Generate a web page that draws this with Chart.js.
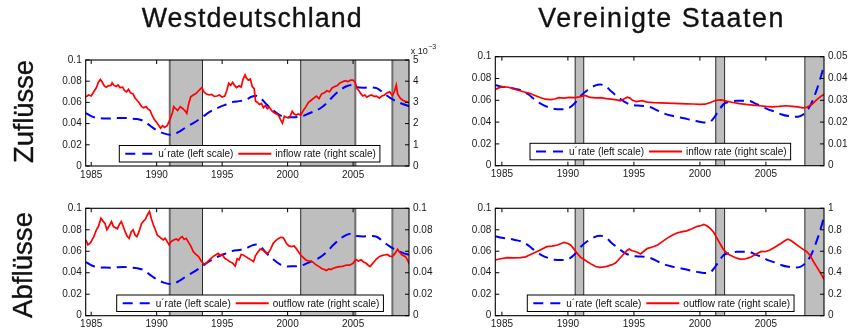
<!DOCTYPE html>
<html><head><meta charset="utf-8">
<script src="https://cdn.jsdelivr.net/npm/chart.js@4.4.1/dist/chart.umd.min.js"></script>
<style>
html,body{margin:0;padding:0;background:#fff;width:848px;height:329px;overflow:hidden;position:relative}
canvas{position:absolute}
svg{position:absolute;left:0;top:0}
</style></head><body>
<canvas id="c1" width="448" height="150" style="left:0;top:36px"></canvas>
<canvas id="c2" width="400" height="150" style="left:448px;top:36px"></canvas>
<canvas id="c3" width="448" height="139" style="left:0;top:190px"></canvas>
<canvas id="c4" width="400" height="139" style="left:448px;top:190px"></canvas>
<svg width="848" height="329" font-family="Liberation Sans, Arial, sans-serif" fill="#111" stroke="#111" stroke-width="0.35">
  <text x="251.7" y="26.7" text-anchor="middle" font-size="26.8" textLength="220" lengthAdjust="spacing">Westdeutschland</text>
  <text x="660.8" y="26.7" text-anchor="middle" font-size="26.8" textLength="245" lengthAdjust="spacing">Vereinigte Staaten</text>
  <text transform="translate(33.3,111.5) rotate(-90)" text-anchor="middle" font-size="27.5" textLength="103" lengthAdjust="spacing">Zuflüsse</text>
  <text transform="translate(31.7,265) rotate(-90)" text-anchor="middle" font-size="27.5" textLength="106" lengthAdjust="spacing">Abflüsse</text>
</svg>
<script>
// ---------------- data ----------------
const xTicks = [1985, 1990, 1995, 2000, 2005];
const leftTicks = [0, 0.02, 0.04, 0.06, 0.08, 0.1];
const wgInflowTicks = [0, 1, 2, 3, 4, 5];            // x 10^-3
const usInflowTicks = [0, 0.01, 0.02, 0.03, 0.04, 0.05];
const wgOutflowTicks = [0, 0.02, 0.04, 0.06, 0.08, 0.1];
const usOutflowTicks = [0, 0.2, 0.4, 0.6, 0.8, 1];

const wgRecessions = [[1991.0, 1993.5], [2001.0, 2005.17], [2008.0, 2009.4]];
const usRecessions = [[1990.55, 1991.2], [2001.2, 2001.87], [2007.95, 2009.5]];

const wgUrate = [[1984.6,0.050],[1985.0,0.047],[1985.5,0.0453],[1986.0,0.0448],[1986.5,0.0447],[1987.0,0.0452],[1987.5,0.0454],[1988.0,0.0448],[1988.5,0.0443],[1989.0,0.0425],[1989.5,0.038],[1990.0,0.0338],[1990.5,0.031],[1991.0,0.0295],[1991.3,0.0298],[1991.8,0.033],[1992.3,0.037],[1992.8,0.0405],[1993.3,0.0445],[1993.8,0.049],[1994.3,0.0527],[1994.8,0.0556],[1995.3,0.058],[1995.8,0.0603],[1996.3,0.0612],[1996.8,0.0625],[1997.3,0.0655],[1997.6,0.0662],[1997.9,0.0645],[1998.4,0.058],[1998.9,0.0525],[1999.4,0.048],[1999.9,0.0458],[2000.4,0.046],[2001.0,0.0465],[2001.5,0.049],[2002.0,0.0515],[2002.5,0.0545],[2003.0,0.0595],[2003.5,0.066],[2004.0,0.0715],[2004.5,0.0752],[2004.9,0.0765],[2005.3,0.0742],[2005.8,0.0738],[2006.3,0.0742],[2006.8,0.0735],[2007.3,0.069],[2007.8,0.0645],[2008.3,0.061],[2008.8,0.0585],[2009.3,0.0565]];

// inflow rate West Germany, in units of 10^-3
const wgInflowE3 = [[1984.6,3.26],[1984.8,3.35],[1985.0,3.30],[1985.2,3.50],[1985.4,3.70],[1985.55,3.95],[1985.7,4.08],[1985.85,3.95],[1986.0,3.78],[1986.15,3.72],[1986.3,3.78],[1986.5,3.80],[1986.6,3.92],[1986.75,3.80],[1986.9,3.75],[1987.05,3.82],[1987.2,3.70],[1987.4,3.72],[1987.55,3.55],[1987.7,3.50],[1987.85,3.62],[1988.0,3.45],[1988.2,3.40],[1988.35,3.20],[1988.5,3.10],[1988.7,2.95],[1988.85,2.80],[1989.0,2.75],[1989.2,2.80],[1989.35,2.68],[1989.5,2.62],[1989.65,2.40],[1989.8,2.22],[1990.0,2.05],[1990.15,1.92],[1990.3,1.78],[1990.45,1.90],[1990.6,1.82],[1990.8,1.90],[1991.0,2.16],[1991.2,2.50],[1991.3,2.80],[1991.45,2.70],[1991.6,2.62],[1991.8,2.80],[1992.0,2.70],[1992.15,2.62],[1992.3,2.48],[1992.45,2.95],[1992.6,3.26],[1992.8,3.35],[1993.0,3.42],[1993.2,3.55],[1993.45,3.70],[1993.6,3.50],[1993.8,3.40],[1994.0,3.35],[1994.2,3.38],[1994.4,3.28],[1994.6,3.30],[1994.8,3.35],[1995.0,3.25],[1995.2,3.30],[1995.35,3.55],[1995.5,3.90],[1995.65,3.80],[1995.8,3.95],[1995.95,3.80],[1996.1,3.70],[1996.3,3.78],[1996.45,3.72],[1996.6,4.10],[1996.75,4.30],[1996.85,4.15],[1997.0,4.05],[1997.15,4.10],[1997.3,3.75],[1997.45,3.65],[1997.55,3.05],[1997.7,3.00],[1997.85,2.90],[1998.0,2.95],[1998.15,2.75],[1998.3,2.85],[1998.45,2.70],[1998.6,2.78],[1998.8,2.60],[1999.0,2.50],[1999.15,2.45],[1999.3,2.40],[1999.45,2.20],[1999.6,2.02],[1999.75,2.35],[1999.9,2.30],[2000.05,2.28],[2000.2,2.35],[2000.35,2.58],[2000.5,2.45],[2000.65,2.40],[2000.8,2.45],[2001.0,2.40],[2001.2,2.62],[2001.4,2.80],[2001.6,3.00],[2001.8,3.10],[2002.0,3.20],[2002.2,3.30],[2002.4,3.18],[2002.6,3.40],[2002.8,3.45],[2003.0,3.55],[2003.2,3.50],[2003.4,3.68],[2003.6,3.75],[2003.8,3.80],[2004.0,3.92],[2004.2,3.97],[2004.4,4.02],[2004.6,3.98],[2004.8,4.05],[2005.0,4.05],[2005.15,3.95],[2005.3,3.65],[2005.45,3.55],[2005.6,3.40],[2005.75,3.30],[2005.9,3.35],[2006.05,3.25],[2006.2,3.30],[2006.4,3.35],[2006.6,3.28],[2006.8,3.30],[2007.0,3.20],[2007.2,3.30],[2007.4,3.35],[2007.6,3.45],[2007.8,3.50],[2008.0,3.32],[2008.15,3.50],[2008.3,3.82],[2008.4,3.40],[2008.6,3.20],[2008.8,3.10],[2009.0,3.05],[2009.3,2.98]];

const wgOutflow = [[1984.6,0.0705],[1984.75,0.066],[1984.95,0.068],[1985.2,0.0736],[1985.4,0.080],[1985.55,0.083],[1985.75,0.0907],[1985.9,0.088],[1986.05,0.086],[1986.2,0.080],[1986.35,0.083],[1986.55,0.0876],[1986.7,0.083],[1986.85,0.082],[1987.0,0.081],[1987.15,0.085],[1987.3,0.0876],[1987.45,0.083],[1987.6,0.078],[1987.75,0.074],[1987.9,0.072],[1988.05,0.078],[1988.2,0.080],[1988.35,0.075],[1988.5,0.0736],[1988.7,0.080],[1988.85,0.086],[1989.0,0.088],[1989.15,0.090],[1989.3,0.094],[1989.45,0.097],[1989.6,0.090],[1989.75,0.0845],[1989.9,0.080],[1990.05,0.075],[1990.2,0.0736],[1990.35,0.072],[1990.5,0.0705],[1990.65,0.072],[1990.8,0.069],[1990.95,0.066],[1991.1,0.069],[1991.3,0.0705],[1991.5,0.0715],[1991.65,0.070],[1991.8,0.0725],[1991.95,0.0736],[1992.1,0.071],[1992.25,0.072],[1992.4,0.069],[1992.6,0.065],[1992.8,0.0596],[1993.0,0.057],[1993.2,0.055],[1993.4,0.051],[1993.55,0.0488],[1993.7,0.048],[1993.9,0.0503],[1994.1,0.053],[1994.3,0.055],[1994.5,0.0565],[1994.7,0.058],[1994.85,0.056],[1995.0,0.057],[1995.2,0.0534],[1995.4,0.052],[1995.6,0.0503],[1995.8,0.049],[1996.0,0.0463],[1996.15,0.053],[1996.3,0.052],[1996.45,0.057],[1996.6,0.0565],[1996.8,0.055],[1997.0,0.0534],[1997.2,0.052],[1997.4,0.0503],[1997.55,0.056],[1997.75,0.0596],[1997.9,0.062],[1998.1,0.0612],[1998.3,0.059],[1998.5,0.058],[1998.7,0.062],[1998.9,0.0674],[1999.1,0.070],[1999.3,0.072],[1999.5,0.073],[1999.65,0.0727],[1999.8,0.070],[1999.9,0.0674],[2000.1,0.065],[2000.3,0.0643],[2000.5,0.065],[2000.65,0.0627],[2000.85,0.059],[2001.0,0.0565],[2001.2,0.054],[2001.4,0.0519],[2001.6,0.051],[2001.9,0.0503],[2002.1,0.048],[2002.4,0.0457],[2002.6,0.044],[2002.8,0.043],[2002.95,0.042],[2003.15,0.0435],[2003.3,0.043],[2003.45,0.044],[2003.7,0.045],[2003.95,0.0457],[2004.2,0.046],[2004.5,0.0472],[2004.75,0.047],[2005.0,0.0488],[2005.2,0.0525],[2005.4,0.051],[2005.6,0.052],[2005.8,0.050],[2006.0,0.0488],[2006.15,0.047],[2006.3,0.0457],[2006.45,0.048],[2006.6,0.0503],[2006.8,0.053],[2007.0,0.055],[2007.2,0.056],[2007.4,0.0565],[2007.6,0.057],[2007.8,0.0555],[2008.0,0.055],[2008.2,0.058],[2008.4,0.0618],[2008.55,0.059],[2008.75,0.0565],[2009.0,0.055],[2009.15,0.052],[2009.3,0.048]];

const usUrate = [[1984.5,0.074],[1985.0,0.0725],[1985.5,0.0718],[1986.0,0.0705],[1986.5,0.069],[1987.0,0.0655],[1987.5,0.0605],[1988.0,0.0565],[1988.5,0.0538],[1989.0,0.052],[1989.5,0.0518],[1990.0,0.0525],[1990.5,0.057],[1991.0,0.0645],[1991.5,0.0695],[1992.0,0.0732],[1992.45,0.0745],[1992.9,0.0725],[1993.3,0.068],[1993.8,0.063],[1994.3,0.0585],[1994.8,0.0558],[1995.3,0.0552],[1995.8,0.0548],[1996.3,0.0535],[1996.8,0.0505],[1997.3,0.0478],[1997.8,0.046],[1998.3,0.0447],[1998.8,0.0435],[1999.3,0.042],[1999.8,0.0408],[2000.3,0.0397],[2000.7,0.0398],[2001.0,0.043],[2001.4,0.050],[2001.8,0.0565],[2002.3,0.0585],[2002.8,0.0595],[2003.3,0.0595],[2003.7,0.0595],[2004.2,0.057],[2004.7,0.0545],[2005.2,0.0515],[2005.7,0.0495],[2006.2,0.047],[2006.7,0.0455],[2007.2,0.0448],[2007.6,0.0455],[2008.0,0.049],[2008.4,0.056],[2008.8,0.068],[2009.1,0.079],[2009.4,0.092]];

const usInflow = [[1984.5,0.0350],[1984.8,0.0358],[1985.1,0.0362],[1985.5,0.0360],[1985.9,0.0352],[1986.3,0.0345],[1986.7,0.0338],[1987.1,0.0332],[1987.5,0.0322],[1987.9,0.0313],[1988.3,0.0305],[1988.7,0.0303],[1989.0,0.0306],[1989.3,0.0312],[1989.7,0.0310],[1990.1,0.0313],[1990.5,0.0312],[1990.9,0.0316],[1991.3,0.0322],[1991.7,0.0313],[1992.1,0.0311],[1992.5,0.0312],[1992.9,0.0308],[1993.3,0.0305],[1993.7,0.0302],[1994.0,0.0298],[1994.3,0.0308],[1994.5,0.0314],[1994.7,0.0310],[1994.9,0.0300],[1995.2,0.0294],[1995.6,0.0298],[1996.0,0.0292],[1996.5,0.0289],[1997.0,0.0288],[1997.5,0.0287],[1998.0,0.0286],[1998.5,0.0285],[1999.0,0.0284],[1999.5,0.0283],[2000.0,0.0281],[2000.4,0.0282],[2000.8,0.0290],[2001.2,0.0300],[2001.6,0.0302],[2002.0,0.0296],[2002.5,0.0290],[2003.0,0.0285],[2003.5,0.0281],[2004.0,0.0278],[2004.5,0.0275],[2005.0,0.0272],[2005.5,0.0270],[2006.0,0.0272],[2006.5,0.0275],[2007.0,0.0272],[2007.4,0.0270],[2007.8,0.0265],[2008.1,0.0268],[2008.5,0.0282],[2008.9,0.0305],[2009.2,0.0320],[2009.4,0.0327]];

const usOutflow = [[1984.5,0.519],[1984.9,0.53],[1985.4,0.54],[1985.9,0.538],[1986.4,0.54],[1986.8,0.548],[1987.1,0.565],[1987.5,0.588],[1987.9,0.612],[1988.4,0.643],[1988.8,0.648],[1989.2,0.658],[1989.5,0.672],[1989.7,0.683],[1989.95,0.675],[1990.2,0.658],[1990.45,0.622],[1990.7,0.58],[1990.95,0.545],[1991.2,0.525],[1991.5,0.50],[1991.8,0.478],[1992.1,0.458],[1992.4,0.450],[1992.7,0.455],[1992.95,0.46],[1993.3,0.473],[1993.6,0.49],[1993.9,0.53],[1994.2,0.57],[1994.45,0.605],[1994.65,0.62],[1994.85,0.605],[1995.05,0.60],[1995.25,0.59],[1995.5,0.575],[1995.75,0.60],[1996.0,0.625],[1996.4,0.64],[1996.8,0.658],[1997.1,0.685],[1997.5,0.72],[1997.9,0.75],[1998.3,0.772],[1998.7,0.783],[1999.0,0.79],[1999.4,0.81],[1999.8,0.832],[2000.1,0.84],[2000.3,0.85],[2000.55,0.835],[2000.8,0.81],[2001.05,0.775],[2001.3,0.72],[2001.55,0.665],[2001.8,0.612],[2002.05,0.582],[2002.3,0.563],[2002.7,0.54],[2003.05,0.527],[2003.4,0.528],[2003.8,0.543],[2004.2,0.57],[2004.6,0.596],[2005.0,0.598],[2005.3,0.612],[2005.7,0.64],[2006.1,0.67],[2006.4,0.695],[2006.65,0.712],[2006.9,0.70],[2007.2,0.672],[2007.5,0.645],[2007.85,0.615],[2008.1,0.596],[2008.35,0.56],[2008.6,0.505],[2008.85,0.455],[2009.1,0.405],[2009.4,0.339]];

const urateLabel = 'u\u00B4rate (left scale)';
const inflowLabel = 'inflow rate (right scale)';
const outflowLabel = 'outflow rate (right scale)';

// ---------------- drawing ----------------
const FONT = '"Liberation Sans", Arial, Helvetica, sans-serif';
const toXY = a => a.map(p => ({x: p[0], y: p[1]}));
const fmt = v => String(Number(v.toFixed(4)));
const EDGE_DARK = {color: '#2a2a2a', width: 1};
const EDGE_GRAY = {color: '#6e6e6e', width: 2};

function line(ctx, x1, y1, x2, y2) { ctx.beginPath(); ctx.moveTo(x1, y1); ctx.lineTo(x2, y2); ctx.stroke(); }

const panelPlugin = {
  id: 'panel',
  beforeDatasetsDraw(chart, args, o) {
    const ctx = chart.ctx, ca = chart.chartArea, xs = chart.scales.x;
    ctx.save();
    o.recessions.forEach(([a, b], i) => {
      const x1 = xs.getPixelForValue(Math.max(a, xs.min));
      const x2 = xs.getPixelForValue(Math.min(b, xs.max));
      ctx.fillStyle = '#bebebe';
      ctx.fillRect(x1, ca.top, x2 - x1, ca.bottom - ca.top);
      const st = o.edges[i];
      [[x1, st[0]], [x2, st[1]]].forEach(([x, s]) => {
        if (x < ca.right - 1) { ctx.strokeStyle = s.color; ctx.lineWidth = s.width; line(ctx, x, ca.top, x, ca.bottom); }
      });
    });
    ctx.restore();
  },
  afterDatasetsDraw(chart, args, o) {
    const ctx = chart.ctx, ca = chart.chartArea;
    const xs = chart.scales.x, yl = chart.scales.y, yr = chart.scales.y2;
    ctx.save();
    ctx.strokeStyle = '#000';
    ctx.lineWidth = 1;
    const tl = 4;
    xs.ticks.forEach(t => { const x = xs.getPixelForValue(t.value); line(ctx, x, ca.bottom, x, ca.bottom - tl); line(ctx, x, ca.top, x, ca.top + tl); });
    yl.ticks.forEach(t => { const y = yl.getPixelForValue(t.value); line(ctx, ca.left, y, ca.left + tl, y); });
    yr.ticks.forEach(t => { const y = yr.getPixelForValue(t.value); line(ctx, ca.right, y, ca.right - tl, y); });
    ctx.lineWidth = 1.1;
    ctx.strokeRect(ca.left, ca.top, ca.right - ca.left, ca.bottom - ca.top);

    // legend
    const L = o.legend;
    ctx.font = '10px ' + FONT;
    const tw1 = ctx.measureText(L.labels[0]).width, tw2 = ctx.measureText(L.labels[1]).width;
    const w = 6 + 29 + 4 + tw1 + 5 + 33 + 4 + tw2 + 4;
    const bx = L.left, by = L.top, bh = 16.5, cy = by + bh / 2;
    ctx.fillStyle = '#fff';
    ctx.fillRect(bx, by, w, bh);
    ctx.lineWidth = 1; ctx.strokeStyle = '#000';
    ctx.strokeRect(bx, by, w, bh);
    let x = bx + 6;
    ctx.strokeStyle = '#0000ff'; ctx.lineWidth = 2; ctx.setLineDash([10, 7]);
    line(ctx, x, cy, x + 29, cy); ctx.setLineDash([]);
    x += 33;
    ctx.fillStyle = '#111'; ctx.textBaseline = 'middle'; ctx.textAlign = 'left';
    ctx.fillText(L.labels[0], x, cy + 0.5);
    x += tw1 + 5;
    ctx.strokeStyle = '#ff0000'; ctx.lineWidth = 2;
    line(ctx, x, cy, x + 33, cy);
    x += 37;
    ctx.fillText(L.labels[1], x, cy + 0.5);

    if (o.exponent) {
      ctx.fillStyle = '#222'; ctx.textBaseline = 'alphabetic';
      ctx.font = '9px ' + FONT;
      const ex = ca.right + 1.7, ey = ca.top - 6;
      ctx.fillText('x 10', ex, ey);
      const ww = ctx.measureText('x 10').width;
      ctx.font = '7px ' + FONT;
      ctx.fillText('\u22123', ex + ww + 0.5, ey - 5);
    }
    ctx.restore();
  }
};

function makeChart(id, cfg) {
  const tickFont = {family: FONT, size: 10};
  new Chart(document.getElementById(id), {
    type: 'line',
    data: {
      datasets: [
        {data: toXY(cfg.red), yAxisID: 'y2', borderColor: '#ff0000', borderWidth: 1.7, pointRadius: 0, tension: 0},
        {data: toXY(cfg.blue), yAxisID: 'y', borderColor: '#0000ff', borderWidth: 2, borderDash: [10, 6], pointRadius: 0, cubicInterpolationMode: 'monotone'}
      ]
    },
    options: {
      responsive: false, animation: false, devicePixelRatio: 1,
      layout: {padding: {top: cfg.pt, left: 0, right: 0, bottom: 0}},
      plugins: {
        legend: {display: false}, tooltip: {enabled: false},
        panel: {recessions: cfg.recessions, edges: cfg.edges, legend: cfg.legend, exponent: cfg.exponent}
      },
      scales: {
        x: {
          type: 'linear', min: cfg.xmin, max: cfg.xmax,
          afterBuildTicks: s => { s.ticks = xTicks.map(v => ({value: v})); },
          ticks: {callback: v => String(v), font: tickFont, color: '#1a1a1a', padding: 3, maxRotation: 0, autoSkip: false},
          grid: {display: false, drawTicks: false}, border: {display: false},
          afterFit: s => { s.height = cfg.hx; }
        },
        y: {
          position: 'left', min: 0, max: 0.1,
          afterBuildTicks: s => { s.ticks = leftTicks.map(v => ({value: v})); },
          ticks: {callback: v => fmt(v), font: tickFont, color: '#1a1a1a', padding: 4},
          grid: {display: false, drawTicks: false}, border: {display: false},
          afterFit: s => { s.width = cfg.lw; }
        },
        y2: {
          position: 'right', min: cfg.rTicks[0], max: cfg.rTicks[cfg.rTicks.length - 1],
          afterBuildTicks: s => { s.ticks = cfg.rTicks.map(v => ({value: v})); },
          ticks: {callback: v => fmt(v), font: tickFont, color: '#1a1a1a', padding: 4},
          grid: {display: false, drawTicks: false}, border: {display: false},
          afterFit: s => { s.width = cfg.rw; }
        }
      }
    },
    plugins: [panelPlugin]
  });
}

const wgEdges = [[EDGE_GRAY, EDGE_DARK], [EDGE_DARK, EDGE_GRAY], [EDGE_GRAY, EDGE_GRAY]];
const usEdges = [[EDGE_DARK, EDGE_DARK], [EDGE_DARK, EDGE_DARK], [EDGE_DARK, EDGE_DARK]];

makeChart('c1', {blue: wgUrate, red: wgInflowE3, rTicks: wgInflowTicks, recessions: wgRecessions, edges: wgEdges,
  xmin: 1984.58, xmax: 2009.27, lw: 85.7, rw: 39, pt: 24, hx: 20, exponent: true,
  legend: {left: 119.3, top: 145.5 - 36, labels: [urateLabel, inflowLabel]}});
makeChart('c2', {blue: usUrate, red: usInflow, rTicks: usInflowTicks, recessions: usRecessions, edges: usEdges,
  xmin: 1984.5, xmax: 2009.4, lw: 47.3, rw: 24, pt: 20.7, hx: 20.3, exponent: false,
  legend: {left: 530 - 448, top: 143.3 - 36, labels: [urateLabel, inflowLabel]}});
makeChart('c3', {blue: wgUrate, red: wgOutflow, rTicks: wgOutflowTicks, recessions: wgRecessions, edges: wgEdges,
  xmin: 1984.58, xmax: 2009.27, lw: 85.7, rw: 39, pt: 18.3, hx: 13.3, exponent: false,
  legend: {left: 116.7, top: 295 - 190, labels: [urateLabel, outflowLabel]}});
makeChart('c4', {blue: usUrate, red: usOutflow, rTicks: usOutflowTicks, recessions: usRecessions, edges: usEdges,
  xmin: 1984.5, xmax: 2009.4, lw: 47.3, rw: 24, pt: 18.3, hx: 13.3, exponent: false,
  legend: {left: 527.3 - 448, top: 295 - 190, labels: [urateLabel, outflowLabel]}});
</script>
</body></html>
